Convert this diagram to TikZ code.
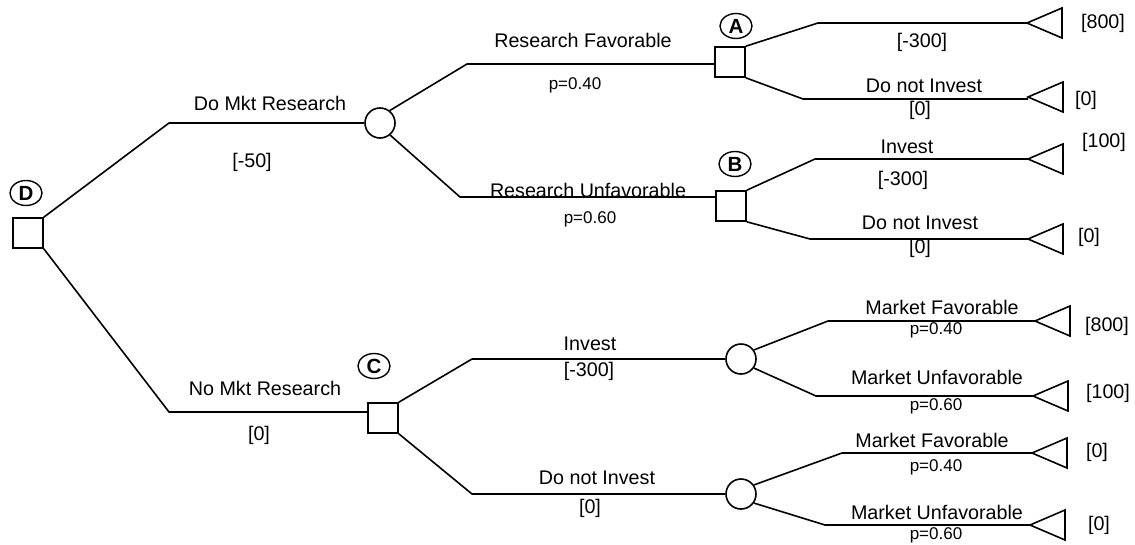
\documentclass[tikz,border=0pt]{standalone}
\usepackage{fontspec}
\setmainfont{Liberation Sans}
\usetikzlibrary{shapes.geometric}
\begin{document}
\begin{tikzpicture}[x=1pt,y=-1pt, line width=1.6pt,
  decbox/.style={draw, rectangle, minimum size=30pt, inner sep=0pt},
  chancenode/.style={draw, circle, minimum size=30pt, inner sep=0pt},
  tag/.style={draw, ellipse, line width=1.4pt, minimum width=32pt, minimum height=25pt, inner sep=0pt, font=\fontsize{20.5}{21}\selectfont\bfseries},
  lbl/.style={inner sep=0pt, font=\fontsize{19.7}{22}\selectfont},
  prob/.style={inner sep=0pt, font=\fontsize{17}{19}\selectfont},
  branch/.style={line join=round},
  endtri/.style={line join=miter}
]
\useasboundingbox (0,0) rectangle (1135,544);

% decision and chance nodes
\node[decbox] (D) at (28,233) {};
\node[tag] (Dl) at (26,193) {D};
\node[chancenode] (c1) at (380,123) {};
\node[decbox] (A) at (730,62) {};
\node[tag] (Al) at (736,26) {A};
\node[decbox] (B) at (731,206) {};
\node[tag] (Bl) at (735,164) {B};
\node[decbox] (C) at (383,418) {};
\node[tag] (Cl) at (374,366) {C};
\node[chancenode] (c2) at (741,359) {};
\node[chancenode] (c3) at (741,494) {};

% elbows
\coordinate (e1) at (169,123);
\coordinate (e2) at (169,412);
\coordinate (e3) at (467,64);
\coordinate (e4) at (460,197);
\coordinate (e5) at (818,23);
\coordinate (e6) at (803,99);
\coordinate (e7) at (815,159);
\coordinate (e8) at (810,239);
\coordinate (e9) at (472,359);
\coordinate (e10) at (472,494);
\coordinate (e11) at (828,321);
\coordinate (e12) at (816,396);
\coordinate (e13) at (842,453);
\coordinate (e14) at (825,525);

% terminal tips
\coordinate (t1) at (1027,23);
\coordinate (t2) at (1028,97);
\coordinate (t3) at (1028,159);
\coordinate (t4) at (1028,239);
\coordinate (t5) at (1035,321);
\coordinate (t6) at (1033,396);
\coordinate (t7) at (1032,453);
\coordinate (t8) at (1030,525);

% branches
\draw[branch] (D.north east) -- (e1) -- (c1);
\draw[branch] (D.south east) -- (e2) -- (e2 -| C.west);
\draw[branch] (c1.52) -- (e3) -- (e3 -| A.west);
\draw[branch] (c1.-50) -- (e4) -- (e4 -| B.west);
\draw[branch] (A.north east) -- (e5) -- (t1);
\draw[branch] (A.south east) -- (e6) -- (e6 -| t2);
\draw[branch] (B.north east) -- (e7) -- (t3);
\draw[branch] (B.south east) -- (e8) -- (t4);
\draw[branch] (C.north east) -- (e9) -- (c2);
\draw[branch] (C.south east) -- (e10) -- (c3);
\draw[branch] (c2.35) -- (e11) -- (t5);
\draw[branch] (c2.-35) -- (e12) -- (t6);
\draw[branch] (c3.35) -- (e13) -- (t7);
\draw[branch] (c3.-35) -- (e14) -- (t8);

% terminal triangles
\foreach \t in {t1,t2,t3,t4,t5,t6,t7,t8}
  \draw[endtri] (\t) -- ++(35,-15) -- ++(0,30) -- cycle;

% labels
\node[lbl] (l1) at (270,103) {Do Mkt Research};
\node[lbl] (l2) at (252,162) {[-50]};
\node[lbl] (l3) at (265,388) {No Mkt Research};
\node[lbl] (l4) at (259,435) {[0]};
\node[lbl] (l5) at (583,40) {Research Favorable};
\node[prob] (l6) at (575,85) {p=0.40};
\node[lbl] (l7) at (588,190) {Research Unfavorable};
\node[prob] (l8) at (590,219) {p=0.60};
\node[lbl] (l9) at (922,42) {[-300]};
\node[lbl] (l10) at (1103,23) {[800]};
\node[lbl] (l11) at (924,86) {Do not Invest};
\node[lbl] (l12) at (920,110) {[0]};
\node[lbl] (l13) at (1086,100) {[0]};
\node[lbl] (l14) at (907,147) {Invest};
\node[lbl] (l15) at (903,180) {[-300]};
\node[lbl] (l16) at (1104,142) {[100]};
\node[lbl] (l17) at (920,223) {Do not Invest};
\node[lbl] (l18) at (920,248) {[0]};
\node[lbl] (l19) at (1089,237) {[0]};
\node[lbl] (l20) at (590,344) {Invest};
\node[lbl] (l21) at (589,371) {[-300]};
\node[lbl] (l22) at (597,478) {Do not Invest};
\node[lbl] (l23) at (590,508) {[0]};
\node[lbl] (l24) at (942,307) {Market Favorable};
\node[prob] (l25) at (936,330) {p=0.40};
\node[lbl] (l26) at (1107,326) {[800]};
\node[lbl] (l27) at (937,377) {Market Unfavorable};
\node[prob] (l28) at (936,406) {p=0.60};
\node[lbl] (l29) at (1108,393) {[100]};
\node[lbl] (l30) at (932,440) {Market Favorable};
\node[prob] (l31) at (936,467) {p=0.40};
\node[lbl] (l32) at (1097,452) {[0]};
\node[lbl] (l33) at (937,512) {Market Unfavorable};
\node[prob] (l34) at (936,535) {p=0.60};
\node[lbl] (l35) at (1099,525) {[0]};
\end{tikzpicture}
\end{document}
